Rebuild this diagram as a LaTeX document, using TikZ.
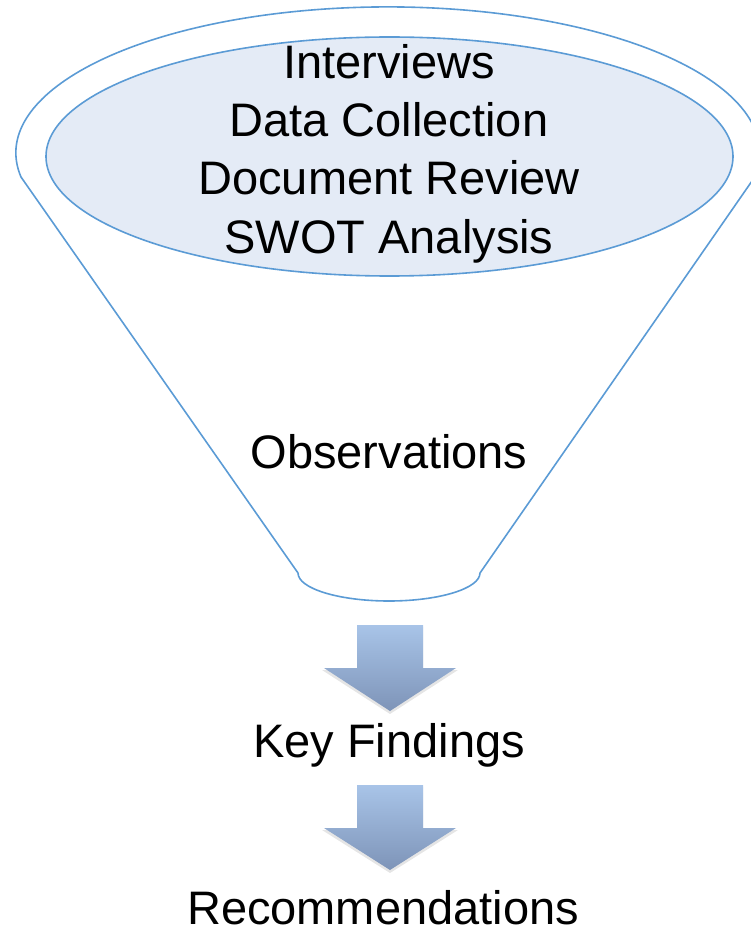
\documentclass[tikz,border=0pt]{standalone}
\usepackage{fontspec}
\setmainfont{Liberation Sans}
\definecolor{funnelblue}{RGB}{91,155,213}
\definecolor{innerfill}{RGB}{228,235,246}
\definecolor{arrowtop}{RGB}{168,196,232}
\definecolor{arrowbot}{RGB}{126,148,184}
\begin{document}
\begin{tikzpicture}[x=1pt,y=1pt,
  funnelline/.style={draw=funnelblue,line width=1.6pt,line join=round},
  lbl/.style={anchor=base,inner sep=0pt,font=\fontsize{47}{58}\selectfont,text=black},
  downarrow/.style={top color=arrowtop,bottom color=arrowbot,draw=none},
  arrowshadow/.style={fill=black,opacity=0.10}]
\useasboundingbox (0,0) rectangle (751,-933);
% outer funnel
\path[funnelline] (21,-177) arc[start angle=189.5,end angle=-9.5,x radius=372,y radius=146]
  -- (480,-573) arc[start angle=0,end angle=-180,x radius=91,y radius=28] -- cycle;
% inner ellipse
\path[funnelline,fill=innerfill] (389.5,-156.5) ellipse[x radius=343.5,y radius=119.5];
% texts
\node[lbl] (t1) at (389,-79) {Interviews};
\node[lbl] (t2) at (389,-137) {Data Collection};
\node[lbl] (t3) at (389,-195) {Document Review};
\node[lbl] (t4) at (389,-253) {SWOT Analysis};
\node[lbl] (obs) at (389,-468) {Observations};
\node[lbl] (key) at (389,-757.5) {Key Findings};
\node[lbl] (rec) at (383,-924) {Recommendations};
% arrows
\path[arrowshadow] (357,-627) -- (423,-627) -- (423,-670) -- (458,-670) -- (390,-714) -- (322,-670) -- (357,-670) -- cycle;
\path[downarrow] (357,-625) -- (423,-625) -- (423,-668) -- (456,-668) -- (390,-711) -- (324,-668) -- (357,-668) -- cycle;
\path[arrowshadow] (357,-787) -- (423,-787) -- (423,-830) -- (458,-830) -- (390,-873) -- (322,-830) -- (357,-830) -- cycle;
\path[downarrow] (357,-785) -- (423,-785) -- (423,-828) -- (456,-828) -- (390,-870) -- (324,-828) -- (357,-828) -- cycle;
\end{tikzpicture}
\end{document}
